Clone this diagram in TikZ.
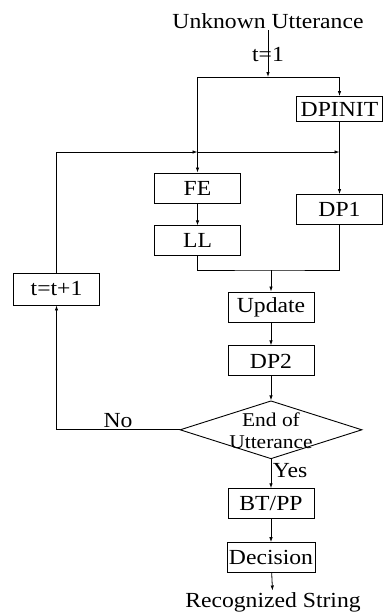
\documentclass[tikz,border=0pt]{standalone}
\usepackage{fontspec}
\setmainfont{Liberation Serif}[FakeStretch=1.1]
\usetikzlibrary{arrows.meta,positioning,shapes.geometric}

\begin{document}
\begin{tikzpicture}[x=1pt, y=-1pt,
  box/.style={draw, line width=0.9pt, minimum width=86pt, minimum height=30pt,
              inner sep=2pt, font=\fontsize{21.5}{17}\selectfont},
  dia/.style={draw, diamond, line width=0.9pt, aspect=3.1,
              minimum width=182pt, minimum height=58pt, inner sep=0pt},
  lbl/.style={font=\fontsize{21.5}{19}\selectfont, inner sep=1.5pt},
  arr/.style={-{Latex[length=5pt,width=3.5pt]}, line width=0.8pt},
  wire/.style={line width=0.8pt}
]
\useasboundingbox (0,0) rectangle (383,614);

\node[lbl] (title) at (268,21) {Unknown Utterance};
\node[lbl] (tinit) at (268,55) {t=1};
\node[box, minimum height=25pt] (dpinit) at (339.5,109) {DPINIT};
\node[box] (fe) at (197.5,188) {FE};
\node[box, below=22pt of fe] (ll) {LL};
\node[box] (dp1) at (339.5,209.5) {DP1};
\node[box, minimum height=32pt] (inc) at (56.5,289) {t=t+1};
\node[box] (upd) at (271,307) {Update};
\node[box, below=23pt of upd] (dp2) {DP2};
\node[dia, below=24pt of dp2] (eou) {};
\node[lbl, align=center, inner sep=0pt, font=\fontsize{19.5}{21.8}\selectfont]
  (eoutxt) at ([yshift=-1pt]eou.center) {End of\\Utterance};
\node[box, below=29pt of eou] (btpp) {BT/PP};
\node[box, below=23pt of btpp] (dec) {Decision};
\node[lbl] (outp) at (273,602) {Recognized String};

\coordinate (split) at (268,77);
\coordinate (fbL) at (197.5,152);
\coordinate (fbR) at (339.5,152);
\coordinate (mrg) at (271,270);

\draw[arr] (title) -- (split);
\draw[arr] (split) -| (fe.north);
\draw[arr] (split) -| (dpinit.north);
\draw[arr] (dpinit) -- (dp1);
\draw[arr] (fe) -- (ll);
% both branches join again before the update step
\draw[wire] (ll.south) |- (mrg) -| (dp1.south);
\draw[arr] (mrg) -- (upd);
\draw[arr] (upd) -- (dp2);
\draw[arr] (dp2) -- (eou);
\draw[arr] (eou.west) -| node[lbl,above,pos=0.25] {No} (inc.south);
\draw[arr] (inc.north) |- (fbL);
\draw[arr] (fbL) -- (fbR);
\draw[arr] (eou.south) -- node[lbl,right,pos=0.4] {Yes} (btpp);
\draw[arr] (btpp) -- (dec);
\draw[arr] (dec) -- (outp);
\end{tikzpicture}
\end{document}
